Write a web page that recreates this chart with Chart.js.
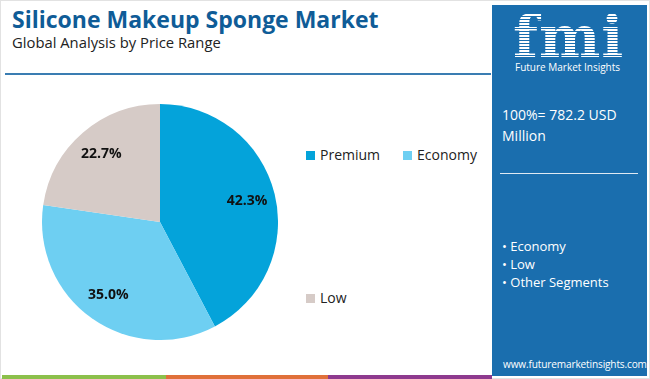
<!DOCTYPE html>
<html>
<head>
<meta charset="utf-8">
<script src="https://cdn.jsdelivr.net/npm/chart.js@4.4.0/dist/chart.umd.min.js"></script>
<style>
  html, body { margin:0; padding:0; background:#fff; }
  body { width:650px; height:379px; position:relative; overflow:hidden; font-family:"Open Sans", "Noto Sans", sans-serif; }
  #frame { position:absolute; left:0; top:0; width:648px; height:377px; border:1px solid #e2e2e2; }
  #title { position:absolute; left:12px; top:3px; font-family:"Open Sans", sans-serif; font-weight:700; font-size:23px; color:#0f5c97; letter-spacing:0px; white-space:nowrap; }
  #subtitle { position:absolute; left:12px; top:32px; font-size:14.8px; color:#222; white-space:nowrap; }
  #rule { position:absolute; left:5px; top:73px; width:486px; height:2px; background:#3a7db2; }
  #pieWrap { position:absolute; left:42px; top:104px; width:236px; height:236px; }
  .leg { position:absolute; font-size:14px; color:#222; white-space:nowrap; line-height:16px; }
  .leg span.sw { display:inline-block; width:9px; height:9px; margin-right:5px; vertical-align:0px; }
  #panel { position:absolute; left:492px; top:5px; width:155px; height:371px; background:#1a6eae; color:#fff; }
  #logo { position:absolute; left:21px; top:3px; font-family:"DejaVu Serif", serif; font-weight:700; font-size:58px; line-height:58px; letter-spacing:1px;
          background:repeating-linear-gradient(to bottom, #fff 0px, #fff 2px, #1a6eae 2px, #1a6eae 3px); -webkit-background-clip:text; background-clip:text; color:transparent; }
  #logoSub { position:absolute; left:23px; top:55px; font-size:10px; color:#fff; white-space:nowrap; }
  #total { position:absolute; left:10px; top:99px; font-size:14px; line-height:21px; color:#fff; }
  #prule { position:absolute; left:8px; top:168px; width:138px; height:1px; background:#dfe9f3; }
  #bullets { position:absolute; left:10px; top:232px; font-size:13px; line-height:18px; color:#fff; }
  #url { position:absolute; left:11px; top:352px; font-size:10.1px; color:#fff; white-space:nowrap; letter-spacing:-0.15px; }
  .stripe { position:absolute; top:375px; height:4px; }
</style>
</head>
<body>
<div id="frame"></div>
<div id="title">Silicone Makeup Sponge Market</div>
<div id="subtitle">Global Analysis by Price Range</div>
<div id="rule"></div>
<div id="pieWrap"><canvas id="pie" width="236" height="236"></canvas></div>
<div id="legend"></div>
<div id="panel">
  <div id="logo">fmi</div>
  <div id="logoSub">Future Market Insights</div>
  <div id="total">100%= 782.2 USD<br>Million</div>
  <div id="prule"></div>
  <div id="bullets"></div>
  <div id="url">www.futuremarketinsights.com</div>
</div>
<div class="stripe" style="left:2px;width:164px;background:#8cc04b"></div>
<div class="stripe" style="left:166px;width:162px;background:#e0703a"></div>
<div class="stripe" style="left:328px;width:164px;background:#8e3a8e"></div>
<script>
const categories = ["Premium", "Economy", "Low"];
const shares = [42.3, 35.0, 22.7];
const colors = ["#04a3da", "#6ecff2", "#d6cbc7"];
const segmentBullets = ["Economy", "Low", "Other Segments"];

// legend (custom layout as in the reference)
const legPos = [[306,147],[403,147],[306,290]];
const legend = document.getElementById('legend');
categories.forEach((c,i)=>{
  const d = document.createElement('div');
  d.className = 'leg';
  d.style.left = legPos[i][0] + 'px';
  d.style.top = legPos[i][1] + 'px';
  d.innerHTML = '<span class="sw" style="background:'+colors[i]+'"></span>' + c;
  legend.appendChild(d);
});
document.getElementById('bullets').innerHTML = segmentBullets.map(s=>'• '+s).join('<br>');

const labelPlugin = {
  id: 'sliceLabels',
  afterDatasetsDraw(chart) {
    const ctx = chart.ctx;
    const meta = chart.getDatasetMeta(0);
    ctx.save();
    ctx.font = 'bold 14px "Open Sans", sans-serif';
    ctx.fillStyle = '#111';
    ctx.textAlign = 'center';
    ctx.textBaseline = 'middle';
    meta.data.forEach((arc, i) => {
      const mid = (arc.startAngle + arc.endAngle) / 2;
      const r = arc.outerRadius * 0.76;
      const x = arc.x + Math.cos(mid) * r;
      const y = arc.y + Math.sin(mid) * r;
      ctx.fillText(shares[i].toFixed(1) + '%', x, y);
    });
    ctx.restore();
  }
};

new Chart(document.getElementById('pie'), {
  type: 'pie',
  data: { labels: categories, datasets: [{ data: shares, backgroundColor: colors, borderWidth: 0 }] },
  options: {
    responsive: false, animation: false,
    layout: { padding: 0 },
    plugins: { legend: { display: false }, tooltip: { enabled: false } }
  },
  plugins: [labelPlugin]
});
</script>
</body>
</html>
